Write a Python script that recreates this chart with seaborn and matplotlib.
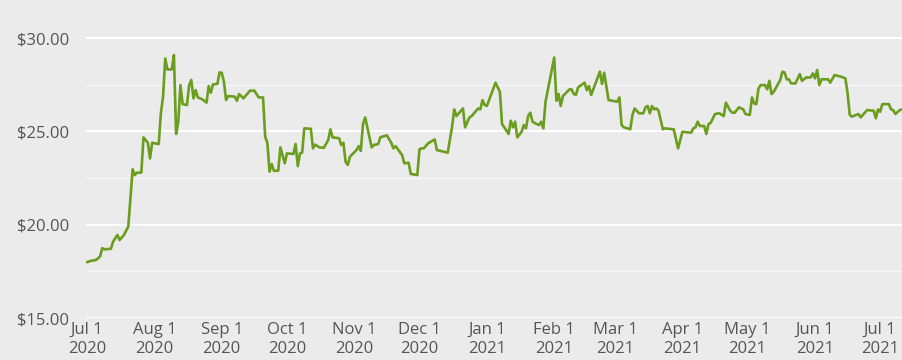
import pandas as pd
import numpy as np
import matplotlib
matplotlib.use("Agg")
import matplotlib.pyplot as plt
import matplotlib.dates as mdates
from matplotlib.ticker import FuncFormatter, MultipleLocator
import seaborn as sns

# daily closing price
dates = [
    "2020-07-01", "2020-07-03", "2020-07-05", "2020-07-07", "2020-07-08", "2020-07-09",
    "2020-07-12", "2020-07-13", "2020-07-15", "2020-07-16", "2020-07-18", "2020-07-20",
    "2020-07-22", "2020-07-23", "2020-07-24", "2020-07-26", "2020-07-27", "2020-07-29",
    "2020-07-30", "2020-07-31", "2020-08-03", "2020-08-04", "2020-08-05", "2020-08-06",
    "2020-08-07", "2020-08-09", "2020-08-10", "2020-08-11", "2020-08-12", "2020-08-13",
    "2020-08-14", "2020-08-16", "2020-08-17", "2020-08-18", "2020-08-19", "2020-08-20",
    "2020-08-21", "2020-08-23", "2020-08-25", "2020-08-26", "2020-08-27", "2020-08-28",
    "2020-08-30", "2020-08-31", "2020-09-01", "2020-09-02", "2020-09-03", "2020-09-04",
    "2020-09-07", "2020-09-08", "2020-09-09", "2020-09-11", "2020-09-14", "2020-09-16",
    "2020-09-17", "2020-09-18", "2020-09-20", "2020-09-21", "2020-09-22", "2020-09-23",
    "2020-09-24", "2020-09-25", "2020-09-27", "2020-09-28", "2020-09-30", "2020-10-01",
    "2020-10-04", "2020-10-05", "2020-10-06", "2020-10-07", "2020-10-08", "2020-10-09",
    "2020-10-12", "2020-10-13", "2020-10-14", "2020-10-16", "2020-10-18", "2020-10-20",
    "2020-10-21", "2020-10-22", "2020-10-25", "2020-10-26", "2020-10-27", "2020-10-28",
    "2020-10-29", "2020-10-30", "2020-11-02", "2020-11-03", "2020-11-04", "2020-11-05",
    "2020-11-06", "2020-11-09", "2020-11-10", "2020-11-12", "2020-11-13", "2020-11-16",
    "2020-11-18", "2020-11-19", "2020-11-20", "2020-11-23", "2020-11-24", "2020-11-26",
    "2020-11-27", "2020-11-30", "2020-12-01", "2020-12-02", "2020-12-03", "2020-12-05",
    "2020-12-08", "2020-12-09", "2020-12-14", "2020-12-16", "2020-12-17", "2020-12-18",
    "2020-12-21", "2020-12-22", "2020-12-24", "2020-12-25", "2020-12-28", "2020-12-29",
    "2020-12-30", "2020-12-31", "2021-01-01", "2021-01-05", "2021-01-07", "2021-01-08",
    "2021-01-09", "2021-01-11", "2021-01-12", "2021-01-13", "2021-01-14", "2021-01-15",
    "2021-01-17", "2021-01-18", "2021-01-19", "2021-01-20", "2021-01-21", "2021-01-22",
    "2021-01-24", "2021-01-25", "2021-01-26", "2021-01-27", "2021-01-28", "2021-01-29",
    "2021-02-01", "2021-02-02", "2021-02-03", "2021-02-04", "2021-02-05", "2021-02-08",
    "2021-02-09", "2021-02-10", "2021-02-11", "2021-02-12", "2021-02-15", "2021-02-16",
    "2021-02-17", "2021-02-18", "2021-02-22", "2021-02-23", "2021-02-24", "2021-02-26",
    "2021-03-01", "2021-03-02", "2021-03-03", "2021-03-04", "2021-03-05", "2021-03-08",
    "2021-03-09", "2021-03-10", "2021-03-12", "2021-03-14", "2021-03-15", "2021-03-16",
    "2021-03-17", "2021-03-18", "2021-03-19", "2021-03-20", "2021-03-21", "2021-03-23",
    "2021-03-24", "2021-03-28", "2021-03-30", "2021-04-01", "2021-04-05", "2021-04-06",
    "2021-04-07", "2021-04-08", "2021-04-09", "2021-04-11", "2021-04-12", "2021-04-13",
    "2021-04-14", "2021-04-16", "2021-04-18", "2021-04-20", "2021-04-21", "2021-04-23",
    "2021-04-24", "2021-04-25", "2021-04-27", "2021-04-29", "2021-04-30", "2021-05-02",
    "2021-05-03", "2021-05-04", "2021-05-05", "2021-05-06", "2021-05-07", "2021-05-09",
    "2021-05-10", "2021-05-11", "2021-05-12", "2021-05-13", "2021-05-16", "2021-05-17",
    "2021-05-18", "2021-05-19", "2021-05-20", "2021-05-21", "2021-05-23", "2021-05-25",
    "2021-05-26", "2021-05-28", "2021-05-30", "2021-05-31", "2021-06-01", "2021-06-02",
    "2021-06-03", "2021-06-04", "2021-06-07", "2021-06-08", "2021-06-10", "2021-06-13",
    "2021-06-15", "2021-06-16", "2021-06-17", "2021-06-18", "2021-06-20", "2021-06-21",
    "2021-06-22", "2021-06-25", "2021-06-28", "2021-06-29", "2021-06-30", "2021-07-01",
    "2021-07-02", "2021-07-05", "2021-07-06", "2021-07-07", "2021-07-08", "2021-07-10",
    "2021-07-11",
]
prices = [
    17.99, 18.07, 18.10, 18.29, 18.74, 18.68,
    18.71, 19.09, 19.45, 19.18, 19.45, 19.90,
    22.97, 22.66, 22.79, 22.79, 24.68, 24.39,
    23.55, 24.39, 24.32, 25.97, 26.86, 28.91,
    28.32, 28.32, 29.09, 24.86, 25.52, 27.48,
    26.46, 26.41, 27.48, 27.75, 26.77, 27.21,
    26.82, 26.72, 26.54, 27.43, 27.07, 27.52,
    27.54, 28.16, 28.14, 27.66, 26.68, 26.89,
    26.86, 26.64, 27.00, 26.77, 27.18, 27.18,
    27.00, 26.82, 26.82, 24.71, 24.39, 22.84,
    23.25, 22.89, 22.89, 24.14, 23.29, 23.82,
    23.79, 24.32, 23.14, 23.82, 23.86, 25.16,
    25.14, 24.09, 24.29, 24.14, 24.12, 24.54,
    25.11, 24.68, 24.63, 24.27, 24.39, 23.37,
    23.20, 23.64, 24.00, 24.21, 23.96, 25.39,
    25.75, 24.14, 24.27, 24.32, 24.68, 24.79,
    24.39, 24.09, 24.21, 23.73, 23.29, 23.32,
    22.72, 22.66, 24.04, 24.09, 24.09, 24.36,
    24.57, 24.00, 23.86, 25.25, 26.18, 25.82,
    26.23, 25.22, 25.75, 25.82, 26.23, 26.18,
    26.68, 26.41, 26.36, 27.61, 27.12, 25.39,
    25.22, 24.86, 25.57, 25.22, 25.52, 24.68,
    24.98, 25.34, 25.16, 25.82, 26.00, 25.52,
    25.39, 25.34, 25.52, 25.16, 26.59, 27.18,
    28.96, 26.64, 27.00, 26.36, 26.89, 27.25,
    27.25, 27.00, 26.96, 27.36, 27.61, 27.21,
    27.43, 26.95, 28.20, 27.54, 28.14, 26.68,
    26.61, 26.59, 26.82, 25.34, 25.22, 25.11,
    25.88, 26.23, 25.97, 25.97, 26.29, 26.36,
    25.97, 26.36, 26.18, 26.23, 26.11, 25.11,
    25.16, 25.11, 24.09, 24.98, 24.93, 25.16,
    25.22, 25.52, 25.29, 25.29, 24.86, 25.39,
    25.46, 25.93, 25.97, 25.82, 26.54, 26.11,
    26.00, 26.00, 26.29, 26.18, 25.93, 25.88,
    26.82, 26.50, 26.46, 27.30, 27.48, 27.48,
    27.25, 27.71, 27.00, 27.12, 27.75, 28.20,
    28.16, 27.79, 27.79, 27.57, 27.57, 28.07,
    27.71, 27.89, 27.89, 28.11, 27.84, 28.29,
    27.48, 27.79, 27.79, 27.61, 28.02, 27.93,
    27.84, 27.04, 25.88, 25.79, 25.88, 25.93,
    25.75, 26.14, 26.11, 25.70, 26.18, 26.05,
    26.46, 26.46, 26.18, 26.14, 25.93, 26.14,
    26.18,
]

y_ticks = [15, 20, 25, 30]
x_start = "2020-06-30 13:00"
x_end = "2021-07-11 12:00"

df = pd.DataFrame({"date": pd.to_datetime(dates), "price": prices})

sns.set_theme(style="darkgrid")
bg = "#ebebeb"
plt.rcParams["font.family"] = ["Open Sans", "DejaVu Sans"]

fig = plt.figure(figsize=(9.03, 3.6), dpi=100, facecolor=bg)
ax = fig.add_axes([86 / 903, 42 / 360, 1 - 86 / 903, 1 - 42 / 360])
ax.set_facecolor(bg)

sns.lineplot(data=df, x="date", y="price", ax=ax, color="#6b9d1f", linewidth=1.9)

ax.set_xlim(pd.Timestamp(x_start), pd.Timestamp(x_end))
ax.set_ylim(15, 32.04)
ax.set_yticks(y_ticks)
ax.yaxis.set_minor_locator(MultipleLocator(2.5))
ax.yaxis.set_major_formatter(FuncFormatter(lambda v, p: f"${v:.2f}"))

ax.xaxis.set_major_locator(mdates.MonthLocator(bymonthday=1))
ax.xaxis.set_major_formatter(FuncFormatter(
    lambda v, p: (lambda d: f"{d.strftime('%b')} {d.day}\n{d.year}")(mdates.num2date(v))))

ax.grid(which="major", axis="y", color="white", linewidth=1.5)
ax.grid(which="minor", axis="y", color="#f6f6f6", linewidth=1.0)
ax.grid(which="major", axis="x", visible=False)
for s in ax.spines.values():
    s.set_visible(False)

ax.tick_params(axis="y", which="both", length=0, pad=12, labelsize=12, labelcolor="#555555")
ax.tick_params(axis="x", which="both", length=0, pad=3, labelsize=12, labelcolor="#555555")
for lab in ax.get_xticklabels():
    lab.set_linespacing(1.25)
ax.set_xlabel("")
ax.set_ylabel("")

fig.savefig("out.png", dpi=100, facecolor=bg)
